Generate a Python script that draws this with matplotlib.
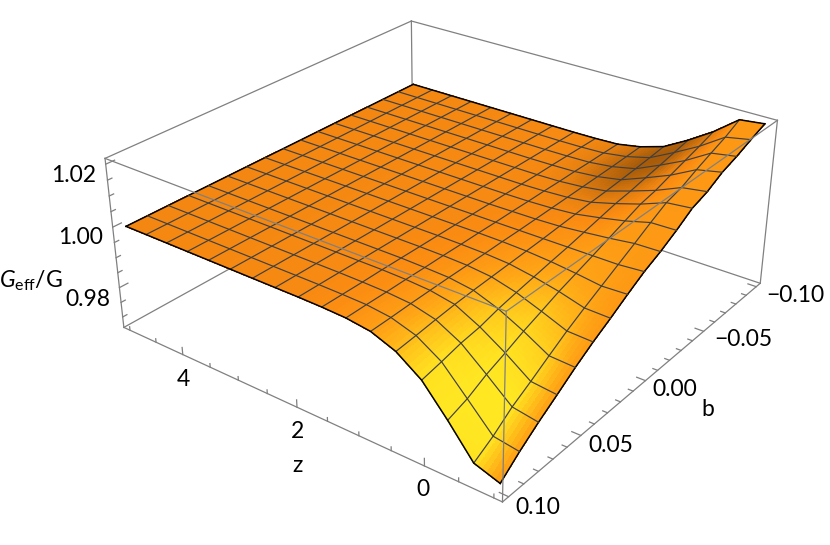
import numpy as np
import matplotlib
matplotlib.use("Agg")
import matplotlib.pyplot as plt
from matplotlib.colors import LinearSegmentedColormap

plt.rcParams['font.family'] = ['Lato', 'DejaVu Sans']
plt.rcParams['mathtext.fontset'] = 'custom'
plt.rcParams['mathtext.rm'] = 'Lato'
plt.rcParams['mathtext.it'] = 'Lato:italic'

z_mesh = [-1, -0.625, -0.25, 0.125, 0.5, 0.875, 1.25, 1.625, 2, 2.375, 2.75, 3.125, 3.5, 3.875, 4.25, 4.625, 5]
b_mesh = [0.1, 0.0875, 0.075, 0.0625, 0.05, 0.0375, 0.025, 0.0125, 0, -0.0125, -0.025, -0.0375, -0.05, -0.0625, -0.075, -0.0875, -0.1]
geff = [
    [0.9693, 0.9743, 0.9787, 0.9827, 0.9868, 0.9905, 0.9938, 0.9973, 1.0006, 1.0032, 1.0063, 1.0098, 1.0117, 1.0146, 1.0165, 1.0188, 1.0209],
    [0.9719, 0.9755, 0.9800, 0.9835, 0.9872, 0.9908, 0.9940, 0.9970, 1.0000, 1.0030, 1.0061, 1.0090, 1.0105, 1.0130, 1.0152, 1.0173, 1.0200],
    [0.9815, 0.9836, 0.9867, 0.9891, 0.9917, 0.9939, 0.9962, 0.9981, 1.0000, 1.0020, 1.0040, 1.0060, 1.0071, 1.0088, 1.0104, 1.0120, 1.0138],
    [0.9903, 0.9916, 0.9931, 0.9940, 0.9956, 0.9968, 0.9979, 0.9990, 1.0000, 1.0012, 1.0024, 1.0036, 1.0044, 1.0055, 1.0065, 1.0076, 1.0087],
    [0.9957, 0.9964, 0.9972, 0.9979, 0.9984, 0.9988, 0.9992, 0.9996, 1.0000, 1.0005, 1.0010, 1.0015, 1.0019, 1.0024, 1.0029, 1.0035, 1.0042],
    [0.9986, 0.9988, 0.9991, 0.9993, 0.9995, 0.9996, 0.9997, 0.9999, 1.0000, 1.0002, 1.0004, 1.0006, 1.0008, 1.0010, 1.0012, 1.0015, 1.0018],
    [0.9996, 0.9997, 0.9997, 0.9998, 0.9998, 0.9999, 0.9999, 1.0000, 1.0000, 1.0001, 1.0001, 1.0002, 1.0002, 1.0003, 1.0003, 1.0004, 1.0004],
    [0.9999, 0.9999, 0.9999, 1.0000, 1.0000, 1.0000, 1.0000, 1.0000, 1.0000, 1.0000, 1.0000, 1.0000, 1.0000, 1.0001, 1.0001, 1.0001, 1.0001],
    [1.0000] * 17,
    [1.0000] * 17,
    [1.0000] * 17,
    [1.0000] * 17,
    [1.0000] * 17,
    [1.0000] * 17,
    [1.0000] * 17,
    [1.0000] * 17,
    [1.0000] * 17,
]

# brightness of the surface at the same vertices, judged from the picture:
# 1 yellow, 0 plain orange, -1 dark brown
shade = [
    [0.25, 0.30, 0.30, 0.28, 0.25, 0.22, 0.18, 0.18, 0.18, 0.18, 0.18, 0.18, 0.18, 0.18, 0.18, 0.18, 0.18],
    [0.95, 1.00, 1.00, 0.90, 0.75, 0.55, 0.42, 0.30, 0.25, 0.22, 0.20, 0.18, 0.16, 0.16, 0.16, 0.16, 0.16],
    [1.00, 1.00, 1.00, 0.95, 0.85, 0.70, 0.50, 0.35, 0.30, 0.22, 0.15, 0.05, -0.05, -0.10, -0.20, -0.30, -0.40],
    [0.95, 0.95, 0.88, 0.80, 0.70, 0.55, 0.42, 0.30, 0.20, 0.10, -0.02, -0.20, -0.40, -0.70, -0.90, -1.00, -0.90],
    [0.60, 0.60, 0.55, 0.50, 0.45, 0.36, 0.27, 0.20, 0.12, 0.05, -0.03, -0.20, -0.55, -0.85, -1.00, -1.00, -0.80],
    [0.30, 0.30, 0.27, 0.25, 0.22, 0.18, 0.13, 0.10, 0.05, 0.00, -0.05, -0.15, -0.35, -0.55, -0.65, -0.60, -0.45],
    [0.12, 0.12, 0.10, 0.10, 0.08, 0.07, 0.05, 0.03, 0.02, 0.00, -0.02, -0.05, -0.12, -0.18, -0.22, -0.22, -0.15],
    [0.05, 0.05, 0.04, 0.04, 0.03, 0.03, 0.02, 0.01, 0.00, 0.00, 0.00, -0.02, -0.03, -0.05, -0.06, -0.06, -0.05],
    [0.00] * 17,
    [0.00] * 17,
    [0.00] * 17,
    [0.00] * 17,
    [0.00] * 17,
    [0.00] * 17,
    [0.00] * 17,
    [0.00] * 17,
    [0.00] * 17,
]

z_minor = [-1, -0.5, 0, 0.5, 1, 1.5, 2, 2.5, 3, 3.5, 4, 4.5, 5]
z_major = [0, 2, 4]
b_minor = [-0.1, -0.09, -0.08, -0.07, -0.06, -0.05, -0.04, -0.03, -0.02, -0.01, 0, 0.01, 0.02, 0.03, 0.04, 0.05, 0.06, 0.07, 0.08, 0.09, 0.1]
b_major = [-0.1, -0.05, 0, 0.05, 0.1]
v_minor = [0.97, 0.975, 0.98, 0.985, 0.99, 0.995, 1, 1.005, 1.01, 1.015, 1.02]
v_major = [0.98, 1, 1.02]

zmin, zmax = -1.12, 5.12
bmin, bmax = -0.104, 0.104
vmin, vmax = 0.9664, 1.0218

geff = np.array(geff)
shade = np.array(shade)
Z, B = np.meshgrid(z_mesh, b_mesh, indexing='ij')

fig = plt.figure(figsize=(8.3, 5.45), dpi=100)
# camera and axes box were fitted to the corners of the box in the picture
ax = fig.add_axes([108.06/830, -20.9/545, 665.58/830, 665.58/545], projection='3d', computed_zorder=False)
ax.view_init(elev=27.667, azim=127.2168, roll=-0.0278)
ax.set_proj_type('persp', focal_length=0.4399)
ax.set_box_aspect((2.4905, 2.4919, 1.0))
ax.set_axis_off()
ax.patch.set_alpha(0)


def refine(a, n=6):
    # split each cell so the colour can change inside it, same bilinear patch
    a = np.asarray(a, float)
    ii = np.linspace(0, a.shape[0]-1, (a.shape[0]-1)*n+1)
    jj = np.linspace(0, a.shape[1]-1, (a.shape[1]-1)*n+1)
    a = np.array([np.interp(jj, np.arange(a.shape[1]), r) for r in a])
    return np.array([np.interp(ii, np.arange(a.shape[0]), c) for c in a.T]).T


# far side of the surface is a touch darker
lit = shade - 0.10*(Z + 1)/6

cmap = LinearSegmentedColormap.from_list('lit', [(0, '#a85c0a'), (0.5, '#fb8c12'), (0.68, '#ffa516'), (1, '#ffe822')])
sf = refine(lit)
sc = 0.25*(sf[:-1, :-1] + sf[1:, :-1] + sf[:-1, 1:] + sf[1:, 1:])
faces = cmap(np.clip(sc, -1, 1)*0.5 + 0.5)
ax.plot_surface(refine(Z), refine(B), refine(geff), rstride=1, cstride=1, facecolors=faces, shade=False,
                linewidth=0.25, antialiased=False, zorder=3)

# mesh lines
for i in range(len(z_mesh)):
    edge = i == 0 or i == len(z_mesh)-1
    ax.plot(Z[i], B[i], geff[i], color='black' if edge else '#404040', lw=1.1 if edge else 0.85, zorder=4)
for j in range(len(b_mesh)):
    edge = j == 0 or j == len(b_mesh)-1
    ax.plot(Z[:, j], B[:, j], geff[:, j], color='black' if edge else '#404040', lw=1.1 if edge else 0.85, zorder=4)


def box_line(z, b, v, zorder):
    ax.plot(z, b, v, color='#808080', lw=0.9, zorder=zorder, clip_on=False)


# box edges behind the surface
box_line([zmax, zmax], [bmax, bmin], [vmax, vmax], 1)
box_line([zmax, zmin], [bmin, bmin], [vmax, vmax], 1)
box_line([zmax, zmax], [bmin, bmin], [vmax, vmin], 1)
box_line([zmax, zmax], [bmax, bmin], [vmin, vmin], 1)
box_line([zmax, zmin], [bmin, bmin], [vmin, vmin], 1)
box_line([zmax, zmax], [bmax, bmax], [vmin, vmax], 1)
box_line([zmin, zmin], [bmin, bmin], [vmin, vmax], 1)
box_line([zmax, zmin], [bmax, bmax], [vmin, vmin], 1)
box_line([zmin, zmin], [bmax, bmin], [vmin, vmin], 1)
# box edges in front of it
box_line([zmax, zmin], [bmax, bmax], [vmax, vmax], 5)
box_line([zmin, zmin], [bmin, bmax], [vmax, vmax], 5)
box_line([zmin, zmin], [bmax, bmax], [vmax, vmin], 5)

# ticks
for t in z_minor:
    L = 0.0024 if t in z_major else 0.0012
    box_line([t, t], [bmax, bmax], [vmin, vmin + L], 1)
for t in b_minor:
    L = 0.13 if t in b_major else 0.07
    box_line([zmin, zmin + L], [t, t], [vmin, vmin], 1)
for t in v_minor:
    L = 0.005 if t in v_major else 0.0025
    box_line([zmax, zmax], [bmax, bmax - L], [t, t], 1)

ax.set_xlim(zmin, zmax)
ax.set_ylim(bmin, bmax)
ax.set_zlim(vmin, vmax)


def label(x, y, s, **kw):
    fig.text(x/830, 1 - y/545, s, ha='center', va='center', fontsize=16.5, color='black', **kw)


label(74, 176, '1.02')
label(81, 238, '1.00')
label(88, 300, '0.98')
label(183, 379, '4')
label(297, 432, '2')
label(423, 490, '0')
label(538, 508, '0.10')
label(611, 445, '0.05')
label(675, 390, '0.00')
label(743, 340, '\u22120.05')
label(795, 295, '\u22120.10')
label(298, 466, 'z')
label(708, 409, 'b')
label(31, 281, r'$\mathit{G}_{\mathrm{eff}}/\mathrm{G}$')

fig.savefig('out.png', dpi=100)
